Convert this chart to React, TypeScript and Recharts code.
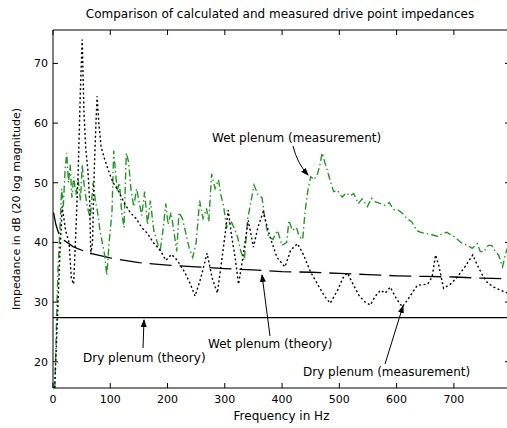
import { LineChart, Line, XAxis, YAxis, Label } from 'recharts';

// dry plenum, theory (flat)
const dryTheoryHz = [0, 798];
const dryTheoryDb = [27.4, 27.4];

// wet plenum, theory (slowly falling)
const wetTheoryHz = [1, 5, 10, 20, 35, 60, 100, 150, 200, 250, 300, 350, 400, 450, 500, 550, 600, 650, 700, 750, 798];
const wetTheoryDb = [45, 43, 41.5, 40.3, 39.3, 38.3, 37.4, 36.6, 36.2, 35.9, 35.6, 35.4, 35.1, 35.0, 34.8, 34.6, 34.4, 34.3, 34.2, 34.0, 33.9];

// dry plenum, measurement
const dryMeasHz = [3, 8, 12, 16, 22, 28, 32, 36, 40, 44, 48, 51, 54, 57, 61, 64, 66, 69, 72, 75, 77, 80, 84, 90, 97, 105, 115, 125, 135, 145, 155, 165, 175, 187, 197, 207, 217, 230, 240, 248, 258, 269, 278, 287, 296, 306, 312, 318, 324, 330, 341, 350, 358, 367, 379, 391, 405, 415, 427, 437, 450, 462, 474, 484, 497, 506, 514, 524, 535, 545, 554, 563, 572, 580, 589, 600, 610, 620, 636, 654, 662, 668, 674, 682, 694, 706, 720, 733, 741, 750, 759, 770, 781, 794];
const dryMeasDb = [15.6, 28, 38, 46, 42, 40, 34, 33, 42, 52, 66, 74, 62, 56, 52, 47, 38, 40, 52, 60, 64.5, 60, 56, 54, 52, 50, 48.5, 46.5, 45, 44, 42.5, 41.5, 40, 38.7, 37, 38, 37, 35, 33, 31, 34, 38.2, 34, 31.5, 38, 45.4, 41, 37.5, 33, 36.5, 43.7, 39.2, 42.6, 45.1, 40.9, 37.5, 35.9, 38.7, 39.8, 38, 35, 33, 31, 29.8, 32, 34, 34.9, 33, 31, 30, 29.5, 31, 32, 31.5, 32.5, 30.5, 29.2, 30.5, 32.8, 33, 34.2, 37.9, 36, 32.3, 33, 34.2, 36, 37.9, 36.2, 34.5, 33.2, 32.5, 32, 31.5];

// wet plenum, measurement
const wetMeasHz = [3, 5, 7, 9, 12, 15, 18, 21, 24, 27, 30, 33, 36, 40, 44, 48, 51, 55, 60, 65, 70, 74, 78, 82, 86, 90, 94, 98, 103, 106, 109, 112, 116, 120, 124, 128, 132, 136, 141, 146, 150, 155, 160, 165, 170, 176, 182, 187, 192, 197, 201, 206, 211, 216, 220, 226, 232, 238, 244, 250, 256, 262, 268, 272, 277, 283, 289, 293, 298, 303, 310, 316, 322, 328, 334, 340, 346, 351, 358, 365, 370, 376, 384, 392, 400, 408, 412, 418, 425, 430, 436, 440, 445, 450, 456, 462, 466, 470, 476, 484, 490, 497, 505, 512, 519, 525, 533, 540, 549, 556, 563, 572, 580, 587, 595, 603, 610, 618, 627, 635, 642, 650, 658, 665, 672, 680, 688, 695, 702, 712, 724, 732, 741, 746, 752, 760, 766, 772, 778, 785, 790, 794];
const wetMeasDb = [15.5, 22, 30, 36, 42, 49, 46, 52, 55, 50, 53, 47.5, 51, 48, 50.5, 47, 53, 49, 46, 44, 50, 47, 45, 42, 40, 38, 34.5, 40, 45, 55.4, 52, 48.7, 50, 45, 42.5, 55, 53.5, 49, 46, 49, 47, 44.5, 48.5, 43, 47, 42, 40, 38.5, 42, 46.5, 43, 45, 42, 38.5, 45, 44, 41.5, 39, 37.5, 40, 47, 44, 45.7, 43.5, 51.5, 49, 50.5, 48, 46, 42.5, 43.7, 42.5, 41, 38.5, 37, 44, 47, 49.6, 48, 47.5, 44, 41, 40.5, 42, 39.5, 40, 43.7, 42, 42.5, 41, 40.5, 45, 48.7, 51, 50.5, 51.5, 53, 55, 53, 50.4, 48.5, 48.7, 47.6, 48.3, 47.8, 48.2, 46.5, 47.3, 46, 47.4, 46.8, 46.5, 46.2, 46.7, 45.5, 45.4, 44.9, 44, 43.4, 42, 41.7, 41.5, 41.4, 41.2, 41, 41.5, 41.7, 41.2, 40.9, 40, 39.5, 39, 39.8, 38.5, 38.4, 39.5, 39.5, 38.5, 37.9, 35.9, 38, 39.2];

const xTicks = [0, 100, 200, 300, 400, 500, 600, 700];
const yTicks = [20, 30, 40, 50, 60, 70];

const toPoints = (hz: number[], db: number[]) => hz.map((f, i) => ({ f, db: db[i] }));

const FONT = '"DejaVu Sans", sans-serif';
const PLOT_LEFT = 53;
const PLOT_RIGHT = 510;
const PLOT_TOP = 30;
const PLOT_BOTTOM = 388;

const LeftTick = ({ x, y, payload }: any) => (
  <g>
    <line x1={PLOT_LEFT} x2={PLOT_LEFT + 5} y1={y} y2={y} stroke="#000" />
    <text x={x} y={y} dy={4} textAnchor="end" fontSize={11} fontFamily={FONT} fill="#000">
      {payload.value}
    </text>
  </g>
);

const BottomTick = ({ x, y, payload }: any) => (
  <g>
    <line x1={x} x2={x} y1={PLOT_BOTTOM} y2={PLOT_BOTTOM - 5} stroke="#000" />
    <text x={x} y={y} dy={9} textAnchor="middle" fontSize={11} fontFamily={FONT} fill="#000">
      {payload.value}
    </text>
  </g>
);

const TopTick = ({ x }: any) => <line x1={x} x2={x} y1={PLOT_TOP} y2={PLOT_TOP + 5} stroke="#000" />;
const RightTick = ({ y }: any) => <line x1={PLOT_RIGHT} x2={PLOT_RIGHT - 5} y1={y} y2={y} stroke="#000" />;

export default function App() {
  const txt = { fontFamily: FONT, fontSize: 12, fill: '#000' };
  return (
    <div style={{ position: 'absolute', left: 0, top: 0, width: 507, height: 428, overflow: 'hidden', background: '#fff' }}>
      <LineChart width={515} height={428} margin={{ top: 0, right: 0, bottom: 0, left: 0 }}>
        <XAxis
          xAxisId="b"
          type="number"
          dataKey="f"
          domain={[0, 798]}
          allowDataOverflow
          ticks={xTicks}
          interval={0}
          height={40}
          tickSize={0}
          tickMargin={6}
          tickLine={false}
          tick={<BottomTick />}
          stroke="#000"
        >
          <Label value="Frequency in Hz" position="insideBottom" offset={8} style={{ ...txt, textAnchor: 'middle' }} />
        </XAxis>
        <XAxis
          xAxisId="t"
          orientation="top"
          type="number"
          dataKey="f"
          domain={[0, 798]}
          allowDataOverflow
          ticks={xTicks}
          interval={0}
          height={PLOT_TOP}
          tickSize={0}
          tickLine={false}
          tick={<TopTick />}
          stroke="#000"
        />
        <YAxis
          yAxisId="l"
          type="number"
          domain={[15.6, 75.6]}
          allowDataOverflow
          ticks={yTicks}
          interval={0}
          width={PLOT_LEFT}
          tickSize={0}
          tickMargin={5}
          tickLine={false}
          tick={<LeftTick />}
          stroke="#000"
        >
          <Label
            value="Impedance in dB (20 log magnitude)"
            angle={-90}
            position="insideLeft"
            offset={16}
            style={{ ...txt, fontSize: 11, textAnchor: 'middle' }}
          />
        </YAxis>
        <YAxis
          yAxisId="r"
          orientation="right"
          type="number"
          domain={[15.6, 75.6]}
          allowDataOverflow
          ticks={yTicks}
          interval={0}
          width={5}
          tickSize={0}
          tickLine={false}
          tick={<RightTick />}
          stroke="#000"
        />
        <Line
          xAxisId="b"
          yAxisId="l"
          data={toPoints(dryTheoryHz, dryTheoryDb)}
          dataKey="db"
          type="linear"
          stroke="#000"
          strokeWidth={1.3}
          dot={false}
          isAnimationActive={false}
        />
        <Line
          xAxisId="b"
          yAxisId="l"
          data={toPoints(wetTheoryHz, wetTheoryDb)}
          dataKey="db"
          type="linear"
          stroke="#000"
          strokeWidth={1.3}
          strokeDasharray="22 8"
          dot={false}
          isAnimationActive={false}
        />
        <Line
          xAxisId="b"
          yAxisId="l"
          data={toPoints(wetMeasHz, wetMeasDb)}
          dataKey="db"
          type="linear"
          stroke="#259625"
          strokeWidth={1.4}
          strokeDasharray="7 3 1.5 3"
          dot={false}
          isAnimationActive={false}
        />
        <Line
          xAxisId="b"
          yAxisId="l"
          data={toPoints(dryMeasHz, dryMeasDb)}
          dataKey="db"
          type="linear"
          stroke="#000"
          strokeWidth={1.4}
          strokeDasharray="2 2.5"
          dot={false}
          isAnimationActive={false}
        />
      </LineChart>
      <svg width={507} height={428} style={{ position: 'absolute', left: 0, top: 0, pointerEvents: 'none' }}>
        <defs>
          <marker id="ah" markerWidth="8" markerHeight="8" refX="7" refY="4" orient="auto" markerUnits="userSpaceOnUse">
            <path d="M0,1 L8,4 L0,7 z" fill="#000" />
          </marker>
        </defs>
        <text x={280} y={18} textAnchor="middle" {...txt}>
          Comparison of calculated and measured drive point impedances
        </text>
        <text x={212} y={142} {...txt}>Wet plenum (measurement)</text>
        <path d="M293 146 Q297 163 308 175" fill="none" stroke="#000" markerEnd="url(#ah)" />
        <text x={208} y={348} {...txt}>Wet plenum (theory)</text>
        <line x1={270} y1={336} x2={262} y2={275} stroke="#000" markerEnd="url(#ah)" />
        <text x={83} y={362} {...txt}>Dry plenum (theory)</text>
        <line x1={143} y1={348} x2={144} y2={320} stroke="#000" markerEnd="url(#ah)" />
        <text x={303} y={376} {...txt}>Dry plenum (measurement)</text>
        <line x1={385} y1={364} x2={403} y2={306} stroke="#000" markerEnd="url(#ah)" />
      </svg>
    </div>
  );
}
